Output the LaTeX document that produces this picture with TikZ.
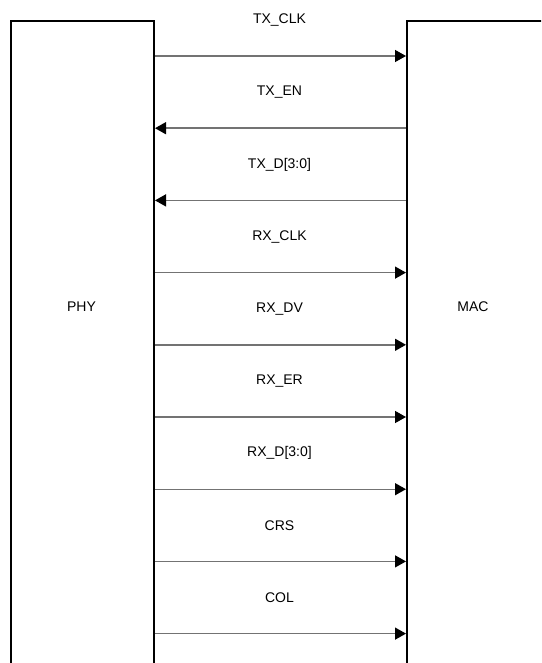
\documentclass[tikz,border=0pt]{standalone}
\usepackage{fontspec}
\setmainfont{Liberation Sans}
\usetikzlibrary{arrows.meta}
\tikzset{
	block/.style = {draw=black, line width=2pt, minimum width=143pt, minimum height=700pt, anchor=north west, inner sep=0pt},
	sig/.style = {line width=1.4pt, draw=black!55, -{Triangle[length=11pt,width=12pt,color=black]}},
	siglabel/.style = {font=\fontsize{14}{16}\selectfont}
}

\begin{document}
\begin{tikzpicture}[x=1pt, y=-1pt]
	\clip (0,0) rectangle (541,663);
	\node (phy) [block] at (10,20) {};
	\node (mac) [block, minimum width=200pt] at (406,20) {};
	\node (phyname) [siglabel] at (81.5,307) {PHY};
	\node (macname) [siglabel] at (473,307) {MAC};

	\foreach \name/\src/\dst [count=\i] in {TX\_CLK/phy.east/mac.west, TX\_EN/mac.west/phy.east, TX\_D[3:0]/mac.west/phy.east, RX\_CLK/phy.east/mac.west, RX\_DV/phy.east/mac.west, RX\_ER/phy.east/mac.west, RX\_D[3:0]/phy.east/mac.west, CRS/phy.east/mac.west, COL/phy.east/mac.west} {
		\pgfmathsetmacro{\y}{56 + 72.2*(\i-1)}
		\coordinate (w\i) at (0,\y);
		\node (n\i) [siglabel] at (279.5,\y-36) {\name};
		\draw [sig] (\src |- w\i) -- (\dst |- w\i);
	}
\end{tikzpicture}
\end{document}
